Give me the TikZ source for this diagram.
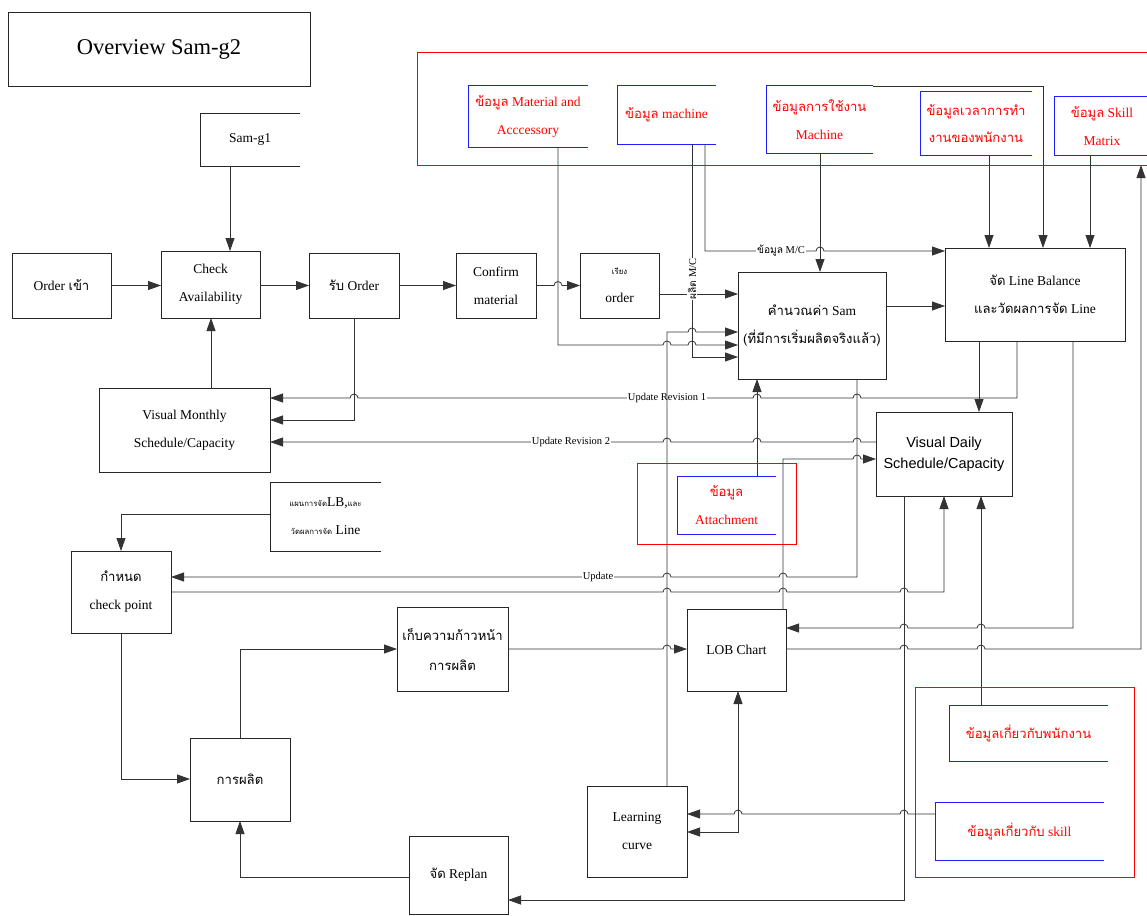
\documentclass[tikz,border=0pt]{standalone}
\usepackage{fontspec}
\setmainfont{Liberation Serif}
\newfontfamily\thfont[Script=Thai,Scale=0.97]{Loma}
\newfontfamily\arialfont{Liberation Sans}
\newcommand\thx[1]{{\thfont #1}}
% small semicircle hops where a horizontal line jumps over a vertical one
\newcommand\hopr[2]{-- ({#1-4},#2) arc[start angle=180,end angle=0,radius=4pt]}
\newcommand\hopl[2]{-- ({#1+4},#2) arc[start angle=0,end angle=180,radius=4pt]}
\usetikzlibrary{arrows.meta}
\definecolor{linegray}{gray}{0.2}
\definecolor{storeblue}{RGB}{30,30,255}
\definecolor{framered}{RGB}{255,0,0}
\begin{document}
\begin{tikzpicture}[x=1pt,y=-1pt,
  txt/.style={align=center, inner sep=0pt, outer sep=0pt, font=\fontsize{13.5}{28}\selectfont},
  box/.style={txt, draw=black!85, line width=0.8pt},
  store/.style={txt},
  redtxt/.style={text=red},
  redframe/.style={draw=framered, line width=1pt, inner sep=0pt, outer sep=0pt},
  storeline/.style={draw=black!85, line width=0.8pt},
  bluestore/.style={draw=storeblue, line width=1pt},
  conn/.style={draw=linegray, line width=0.8pt},
  arr/.style={conn, -{Triangle[length=13pt,width=9pt]}},
  lbl/.style={fill=white, inner sep=1pt, font=\fontsize{10.5}{12}\selectfont},
]
\useasboundingbox (0,0) rectangle (1147,915);

% red frames around the data sources
\node[redframe, minimum width=743pt, minimum height=112pt] (redtop) at (788.5,109) {};
\node[redframe, minimum width=159pt, minimum height=81pt] (redatt) at (716.5,503.5) {};
\node[redframe, minimum width=219pt, minimum height=190pt] (redemp) at (1024.5,782) {};

% title
\node[box, minimum width=302pt, minimum height=74pt, font=\fontsize{22.5}{24}\selectfont] (title) at (159,49) {Overview Sam-g2};

% process boxes
\node[box, minimum width=99pt, minimum height=65pt] (order) at (61.5,285.5) {Order \thx{เข้า}};
\node[box, minimum width=99pt, minimum height=67pt] (check) at (210.5,284.5) {Check\\Availability};
\node[box, minimum width=90pt, minimum height=65pt] (recv) at (354,285.5) {\thx{รับ} Order};
\node[box, minimum width=80pt, minimum height=65pt] (conf) at (496,285.5) {Confirm\\material};
\node[box, minimum width=79pt, minimum height=65pt] (sort) at (619.5,285.5) {{\fontsize{8}{10}\selectfont\thx{เรียง}}\\order};
\node[box, minimum width=148pt, minimum height=107pt] (sam) at (812,325.5) {\thx{คำนวณค่า} Sam\\\thx{(ที่มีการเริ่มผลิตจริงแล้ว)}};
\node[box, minimum width=180pt, minimum height=93pt] (lb) at (1035,294.5) {\thx{จัด} Line Balance\\\thx{และวัดผลการจัด} Line};
\node[box, minimum width=171pt, minimum height=84pt] (monthly) at (184.5,430) {Visual Monthly\\Schedule/Capacity};
\node[box, minimum width=136pt, minimum height=84pt, font=\arialfont\fontsize{14.5}{21}\selectfont] (daily) at (944,454) {Visual Daily\\Schedule/Capacity};
\node[box, minimum width=100pt, minimum height=82pt] (cp) at (121,592) {\thx{กำหนด}\\check point};
\node[box, minimum width=111pt, minimum height=84pt, font=\fontsize{13.5}{30}\selectfont] (prog) at (452.5,649) {\thx{เก็บความก้าวหน้า}\\\thx{การผลิต}};
\node[box, minimum width=99pt, minimum height=82pt] (lob) at (736.5,650) {LOB Chart};
\node[box, minimum width=100pt, minimum height=83pt] (prod) at (240,779.5) {\thx{การผลิต}};
\node[box, minimum width=100pt, minimum height=91pt] (lc) at (637,831.5) {Learning\\curve};
\node[box, minimum width=99pt, minimum height=78pt] (replan) at (458.5,875) {\thx{จัด} Replan};

% open-ended stores
\node[store, minimum width=100pt, minimum height=53pt] (samg1) at (250,139.5) {Sam-g1};
\node[store, minimum width=111pt, minimum height=69pt] (plan) at (325.5,516.5)
  {{\fontsize{8}{10}\selectfont\thx{แผนการจัด}}LB,{\fontsize{8}{10}\selectfont\thx{และ}}\\{\fontsize{8}{10}\selectfont\thx{วัดผลการจัด}} Line};
\foreach \n in {samg1,plan}
  \draw[storeline] (\n.north east) -- (\n.north west) -- (\n.south west) -- (\n.south east);

% data sources (blue open stores, red text)
\node[store, redtxt, minimum width=120pt, minimum height=61pt] (mat) at (528,116.5) {\thx{ข้อมูล} Material and\\Acccessory};
\node[store, redtxt, minimum width=99pt, minimum height=58pt] (mach) at (666.5,115) {\thx{ข้อมูล} machine};
\node[store, redtxt, minimum width=107pt, minimum height=67pt] (use) at (819.5,119.5) {\thx{ข้อมูลการใช้งาน}\\Machine};
\node[store, redtxt, minimum width=112pt, minimum height=63pt, font=\fontsize{13.5}{27}\selectfont] (time) at (976,123.5) {\thx{ข้อมูลเวลาการทำ}\\\thx{งานของพนักงาน}};
\node[store, redtxt, minimum width=96pt, minimum height=58pt] (skillm) at (1102,126) {\thx{ข้อมูล} Skill\\Matrix};
\node[store, redtxt, minimum width=99pt, minimum height=58pt] (att) at (726.5,505) {\thx{ข้อมูล}\\Attachment};
\node[store, redtxt, minimum width=159pt, minimum height=56pt] (emp) at (1028.5,733) {\thx{ข้อมูลเกี่ยวกับพนักงาน}};
\node[store, redtxt, minimum width=169pt, minimum height=58pt] (skl) at (1019.5,831) {\thx{ข้อมูลเกี่ยวกับ} skill};
\foreach \n in {mat,mach,use,time,skillm,att,emp,skl}
  \draw[bluestore] (\n.north east) -- (\n.north west) -- (\n.south west) -- (\n.south east);

% order intake chain
\draw[arr] (order.east) -- (order.east -| check.west);
\draw[arr] (check.east |- recv.west) -- (recv.west);
\draw[arr] (recv.east) -- (conf.west);
\draw[arr] (conf.east) \hopr{558}{285.5} -- (sort.west);
\draw[arr] (samg1.south -| 230,0) -- (check.north -| 230,0);
\draw[arr] (monthly.north -| 211,0) -- (check.south -| 211,0);
\draw[arr] (recv.south) -- (354,420) -- (monthly.east |- 0,420);

% inputs of the Sam calculation
\draw[arr] (sort.east |- 0,294) -- (sam.west |- 0,294);
\draw[arr] (mat.south -| 558,0) -- (558,345) \hopr{667}{345} \hopr{692}{345} -- (sam.west |- 0,345);
\draw[arr] (mach.south -| 692,0) -- (692,357) -- (sam.west |- 0,357);
\node[lbl, rotate=90] (mclbl) at (692,279) {\thx{ผลิต} M/C};
\draw[arr] (mach.south -| 705,0) -- (705,251) \hopr{820}{251} -- (lb.west |- 0,251);
\node[lbl] (mclbl2) at (781,251) {\thx{ข้อมูล} M/C};
\draw[arr] (use.south -| 820,0) -- (sam.north -| 820,0);
\draw[arr] (use.north east) -- (1043,86) -- (lb.north -| 1043,0);
\draw[arr] (time.south -| 989,0) -- (lb.north -| 989,0);
\draw[arr] (skillm.south -| 1090,0) -- (lb.north -| 1090,0);
\draw[arr] (sam.east |- 0,306) -- (lb.west |- 0,306);
\draw[arr] (att.north -| 757,0) -- (sam.south -| 757,0);

% schedule updates
\draw[arr] (lb.south -| 1017,0) -- (1017,398) \hopl{857}{398} \hopl{757}{398} \hopl{354}{398} -- (monthly.east |- 0,398);
\node[lbl] (rev1) at (667,398) {Update Revision 1};
\draw[arr] (daily.west |- 0,442) \hopl{857}{442} \hopl{757}{442} \hopl{667}{442} -- (monthly.east |- 0,442);
\node[lbl] (rev2) at (571,442) {Update Revision 2};
\draw[arr] (lb.south -| 979,0) -- (daily.north -| 979,0);
\draw[arr] (sam.south -| 857,0) -- (857,577) \hopl{783}{577} \hopl{667}{577} -- (cp.east |- 0,577);
\node[lbl] (upd) at (598,577) {Update};
\draw[arr] (lob.north -| 783,0) -- (783,459) \hopr{857}{459} -- (daily.west |- 0,459);
\draw[arr] (cp.east |- 0,592) \hopr{667}{592} \hopr{783}{592} \hopr{904}{592} -- (944,592) -- (daily.south -| 944,0);
\draw[arr] (daily.south -| 904,0) -- (904,900) -- (replan.east |- 0,900);
\draw[arr] (emp.north -| 981,0) -- (daily.south -| 981,0);

% learning curve feeds the Sam calculation
\draw[arr] (lc.north -| 667,0) -- (667,332) \hopr{692}{332} -- (sam.west |- 0,332);

% line balance, LOB chart and production
\draw[arr] (lb.south -| 1073,0) -- (1073,628) \hopl{981}{628} \hopl{904}{628} -- (lob.east |- 0,628);
\draw[arr] (lob.east |- 0,649) \hopr{904}{649} \hopr{981}{649} -- (1141,649) -- (redtop.south -| 1141,0);
\draw[arr] (prog.east) \hopr{667}{649} -- (lob.west |- 0,649);
\draw[arr] (prod.north) -- (240,649) -- (prog.west);
\draw[arr] (cp.south) -- (121,779) -- (prod.west |- 0,779);
\draw[arr] (plan.west |- 0,514) -- (121,514) -- (cp.north);
\draw[arr] (replan.west |- 0,877) -- (240,877) -- (prod.south);
\draw[arr] (skl.west |- 0,814) \hopl{904}{814} \hopl{738}{814} -- (lc.east |- 0,814);
\draw[conn, {Triangle[length=13pt,width=9pt]}-{Triangle[length=13pt,width=9pt]}] (lob.south -| 738,0) -- (738,832) -- (lc.east |- 0,832);
\end{tikzpicture}
\end{document}
